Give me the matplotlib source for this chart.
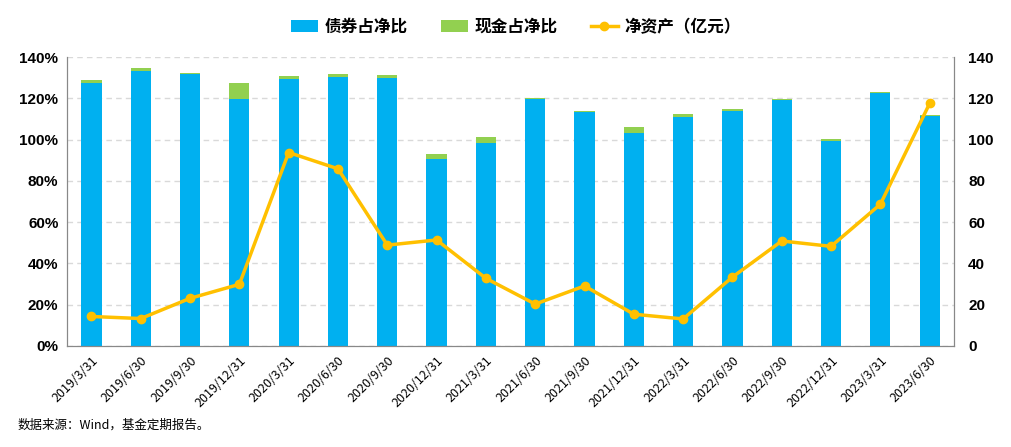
import matplotlib.pyplot as plt
import numpy as np

plt.rcParams['font.family'] = ['Noto Sans CJK SC', 'DejaVu Sans']

dates = ["2019/3/31", "2019/6/30", "2019/9/30", "2019/12/31", "2020/3/31", "2020/6/30",
         "2020/9/30", "2020/12/31", "2021/3/31", "2021/6/30", "2021/9/30", "2021/12/31",
         "2022/3/31", "2022/6/30", "2022/9/30", "2022/12/31", "2023/3/31", "2023/6/30"]
bond_pct = [127.4, 133.2, 131.8, 119.7, 129.4, 130.3, 129.8, 90.6, 98.4, 119.7,
            113.6, 103.2, 111.0, 113.9, 119.3, 99.3, 122.6, 111.4]
cash_pct = [1.5, 1.5, 0.5, 7.7, 1.4, 1.5, 1.5, 2.4, 2.9, 0.5,
            0.4, 2.9, 1.4, 0.9, 0.5, 1.0, 0.5, 0.5]
net_assets = [14.3, 13.3, 23.1, 29.9, 93.8, 85.9, 48.9, 51.4, 32.8, 20.3,
              29.1, 15.4, 13.1, 33.4, 50.9, 48.3, 68.7, 117.6]

blue = "#00B0F0"
green = "#92D050"
gold = "#FFC000"
num_font = ["Liberation Sans", "DejaVu Sans"]

fig = plt.figure(figsize=(10.12, 4.47), dpi=100)
ax = fig.add_axes([0.066, 0.226, 0.877, 0.646])
x = np.arange(len(dates))

ax.bar(x, bond_pct, width=0.41, color=blue, label="债券占净比", zorder=2)
ax.bar(x, cash_pct, width=0.41, bottom=bond_pct, color=green, label="现金占净比", zorder=2)
ax.set_ylim(0, 140)
ax.set_xlim(-0.5, len(dates) - 0.5)
ax.set_yticks(np.arange(0, 141, 20))
ax.set_yticklabels([f"{v}%" for v in range(0, 141, 20)], fontweight="bold", fontsize=11,
                   family=num_font)
ax.yaxis.grid(True, linestyle=(0, (4, 3)), color="#d9d9d9", linewidth=1, zorder=0)
ax.set_axisbelow(True)
ax.set_xticks(x)
ax.set_xticklabels(dates, rotation=45, ha="right", rotation_mode="anchor", fontsize=9)
ax.tick_params(axis="both", length=0, pad=6)
ax.spines["top"].set_visible(False)
for side in ["left", "right", "bottom"]:
    ax.spines[side].set_color("#888888")

ax2 = ax.twinx()
ax2.plot(x, net_assets, color=gold, linewidth=2.5, marker="o", markersize=6,
         label="净资产（亿元）", zorder=3)
ax2.set_ylim(0, 140)
ax2.set_yticks(np.arange(0, 141, 20))
ax2.set_yticklabels([str(v) for v in range(0, 141, 20)], fontweight="bold", fontsize=11,
                    family=num_font)
ax2.tick_params(axis="y", length=0, pad=10)
ax2.spines["top"].set_visible(False)
for side in ["left", "right", "bottom"]:
    ax2.spines[side].set_color("#888888")

h1, l1 = ax.get_legend_handles_labels()
h2, l2 = ax2.get_legend_handles_labels()
fig.legend(h1 + h2, l1 + l2, loc="center", bbox_to_anchor=(0.51, 0.94), ncol=3,
           frameon=False, prop={"weight": "bold", "size": 12}, handlelength=1.6,
           columnspacing=2.0, handletextpad=0.4)

fig.text(0.017, 0.042, "数据来源：Wind，基金定期报告。", fontsize=9)

fig.savefig("out.png", dpi=100)
